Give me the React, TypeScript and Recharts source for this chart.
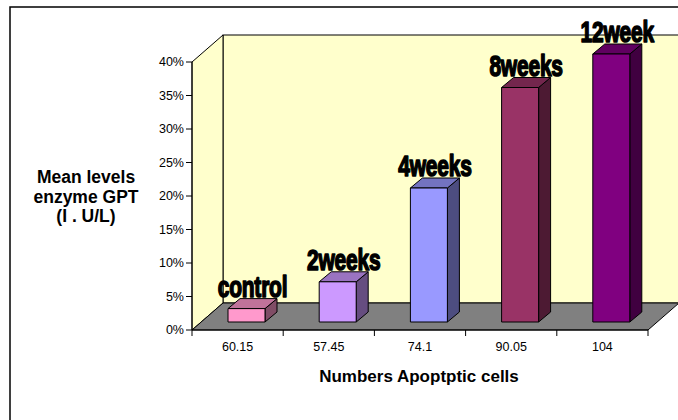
import React from 'react';
import { BarChart, Bar, XAxis, YAxis, LabelList, Customized } from 'recharts';

// Category labels along the x axis (numbers of apoptotic cells)
const CATEGORIES = ['60.15', '57.45', '74.1', '90.05', '104'];
// Group name printed above each column
const GROUP_NAMES = ['control', '2weeks', '4weeks', '8weeks', '12week'];
// Mean enzyme GPT level, as a share (0.4 = 40%)
const GPT_SHARE = [0.02, 0.06, 0.2, 0.35, 0.4];
// Value axis ticks
const Y_TICKS = [0, 0.05, 0.1, 0.15, 0.2, 0.25, 0.3, 0.35, 0.4];

// Column palette: front, top and side faces
const FRONT = ['#FF99CC', '#CC99FF', '#9999FF', '#993366', '#800080'];
const TOP = ['#C0739A', '#9A73C0', '#7373C0', '#73264D', '#600060'];
const SIDE = ['#804D66', '#664D80', '#4D4D80', '#4D1A33', '#400040'];

const rows = CATEGORIES.map((cat, i) => ({
  cat,
  name: GROUP_NAMES[i],
  value: GPT_SHARE[i],
}));

const W = 678;
const H = 420;
const MARGIN = { top: 62, right: 30, bottom: 60, left: 132 };
const Y_AXIS_W = 60;
const X_AXIS_H = 30;
const PLOT_L = MARGIN.left + Y_AXIS_W;
const PLOT_R = W - MARGIN.right;
const PLOT_T = MARGIN.top;
const PLOT_B = H - MARGIN.bottom - X_AXIS_H;
const BAND = (PLOT_R - PLOT_L) / CATEGORIES.length;

// 3D box depth of the walls / floor and of each column
const WALL_DX = 31;
const WALL_DY = 27;
const COL_DX = 12;
const COL_DY = 10;
const COL_SHIFT_X = 9;
const COL_SHIFT_Y = 8;

const FONT = '"Liberation Sans", Arial, sans-serif';

const Backdrop = () => {
  const bx = PLOT_L + WALL_DX;
  const by = PLOT_T - WALL_DY;
  const fy = PLOT_B - WALL_DY;
  return (
    <g>
      <rect x={10} y={7} width={720} height={440} fill="none" stroke="#000" strokeWidth={1.5} />
      <rect x={bx} y={by} width={W + 20 - bx} height={fy - by} fill="#FFFFCC" stroke="#000" strokeWidth={1} />
      <polygon
        points={`${PLOT_L},${PLOT_B} ${PLOT_L},${PLOT_T} ${bx},${by} ${bx},${fy}`}
        fill="#FFFFCC"
        stroke="#000"
        strokeWidth={1}
      />
      <polygon
        points={`${PLOT_L},${PLOT_B} ${bx},${fy} ${PLOT_R + WALL_DX},${fy} ${PLOT_R},${PLOT_B}`}
        fill="#808080"
        stroke="#000"
        strokeWidth={1}
      />
    </g>
  );
};

const Column3D = (props: any) => {
  const { x, y, width, height, index } = props;
  const fx = x + COL_SHIFT_X;
  const fy = y - COL_SHIFT_Y;
  const w = width;
  const h = height;
  return (
    <g stroke="#000" strokeWidth={1} strokeLinejoin="round">
      <polygon
        points={`${fx + w},${fy} ${fx + w + COL_DX},${fy - COL_DY} ${fx + w + COL_DX},${fy + h - COL_DY} ${fx + w},${fy + h}`}
        fill={SIDE[index]}
      />
      <polygon
        points={`${fx},${fy} ${fx + COL_DX},${fy - COL_DY} ${fx + w + COL_DX},${fy - COL_DY} ${fx + w},${fy}`}
        fill={TOP[index]}
      />
      <rect x={fx} y={fy} width={w} height={h} fill={FRONT[index]} />
    </g>
  );
};

const GroupLabel = (props: any) => {
  const { x, y, width, value } = props;
  const cx = x + COL_SHIFT_X + width / 2 + COL_DX / 2;
  const cy = y - COL_SHIFT_Y - 12;
  return (
    <text
      transform={`translate(${cx},${cy}) scale(0.7,1)`}
      x={0}
      y={0}
      textAnchor="middle"
      fontFamily={FONT}
      fontWeight="bold"
      fontSize={30}
      fill="#000"
      stroke="#000"
      strokeWidth={1.6}
      strokeLinejoin="round"
      letterSpacing={-0.3}
    >
      {value}
    </text>
  );
};

const XTick = (props: any) => {
  const { x, payload, index } = props;
  const half = BAND / 2;
  return (
    <g>
      <line x1={x - half} y1={PLOT_B} x2={x - half} y2={PLOT_B + 6} stroke="#000" />
      {index === CATEGORIES.length - 1 && (
        <line x1={x + half} y1={PLOT_B} x2={x + half} y2={PLOT_B + 6} stroke="#000" />
      )}
      <text x={x} y={PLOT_B + 21} textAnchor="middle" fontFamily={FONT} fontSize={12.5} fill="#000">
        {payload.value}
      </text>
    </g>
  );
};

const XTitle = () => (
  <text
    x={(PLOT_L + PLOT_R) / 2 - 1}
    y={PLOT_B + 52}
    textAnchor="middle"
    fontFamily={FONT}
    fontWeight="bold"
    fontSize={17}
    fill="#000"
  >
    Numbers Apoptptic cells
  </text>
);

const YTitle = () => (
  <text textAnchor="middle" fontFamily={FONT} fontWeight="bold" fontSize={17.5} fill="#000">
    <tspan x={86} y={183}>Mean levels</tspan>
    <tspan x={86} y={202.5}>enzyme GPT</tspan>
    <tspan x={86} y={222}>(I . U/L)</tspan>
  </text>
);

export default function App() {
  return (
    <div style={{ position: 'absolute', left: 0, top: 0, background: '#fff' }}>
      <BarChart width={W} height={H} data={rows} margin={MARGIN} barSize={37}>
        <Customized component={Backdrop} />
        <XAxis
          dataKey="cat"
          height={X_AXIS_H}
          axisLine={{ stroke: '#000' }}
          tickLine={false}
          tick={<XTick />}
          interval={0}
          label={{ content: () => <XTitle /> }}
        />
        <YAxis
          width={Y_AXIS_W}
          domain={[0, 0.4]}
          ticks={Y_TICKS}
          interval={0}
          tickFormatter={(v: number) => `${Math.round(v * 100)}%`}
          axisLine={{ stroke: '#000' }}
          tickLine={{ stroke: '#000' }}
          tickSize={6}
          tick={{ fill: '#000', fontSize: 12.5, fontFamily: FONT }}
          label={{ content: () => <YTitle /> }}
        />
        <Bar dataKey="value" shape={<Column3D />} isAnimationActive={false}>
          <LabelList dataKey="name" content={<GroupLabel />} />
        </Bar>
      </BarChart>
    </div>
  );
}
